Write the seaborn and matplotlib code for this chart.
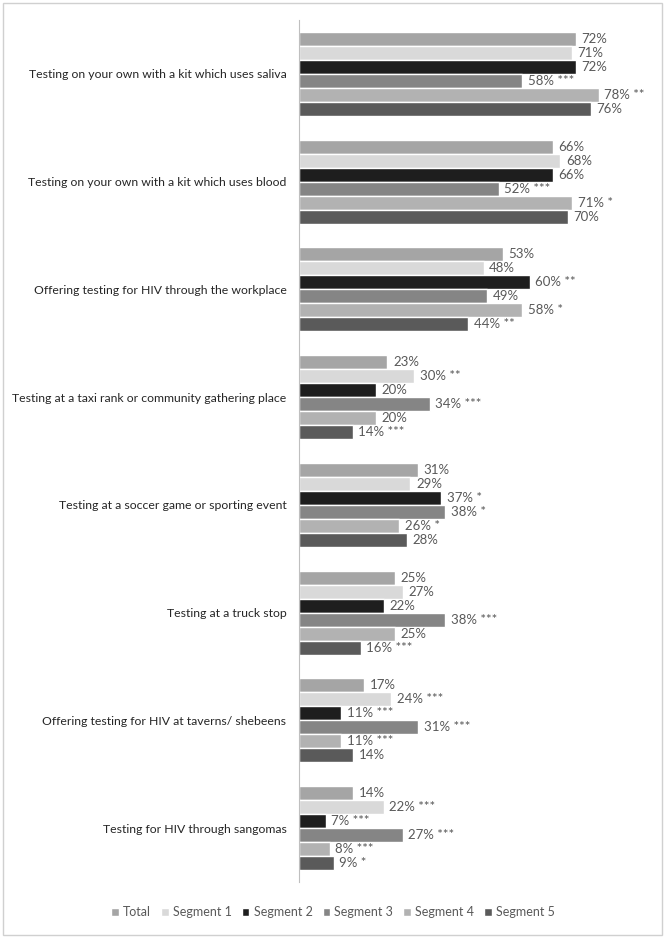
import pandas as pd
import matplotlib.pyplot as plt
import seaborn as sns
from matplotlib.patches import Rectangle

CATEGORIES = [
    "Testing on your own with a kit which uses saliva",
    "Testing on your own with a kit which uses blood",
    "Offering testing for HIV through the workplace",
    "Testing at a taxi rank or community gathering place",
    "Testing at a soccer game or sporting event",
    "Testing at a truck stop",
    "Offering testing for HIV at taverns/ shebeens",
    "Testing for HIV through sangomas",
]
SERIES = ["Total", "Segment 1", "Segment 2", "Segment 3", "Segment 4", "Segment 5"]

total = [72, 66, 53, 23, 31, 25, 17, 14]
seg1 = [71, 68, 48, 30, 29, 27, 24, 22]
seg2 = [72, 66, 60, 20, 37, 22, 11, 7]
seg3 = [58, 52, 49, 34, 38, 38, 31, 27]
seg4 = [78, 71, 58, 20, 26, 25, 11, 8]
seg5 = [76, 70, 44, 14, 28, 16, 14, 9]

# significance markers per series
sig_total = ["", "", "", "", "", "", "", ""]
sig_seg1 = ["", "", "", "**", "", "", "***", "***"]
sig_seg2 = ["", "", "**", "", "*", "", "***", "***"]
sig_seg3 = ["***", "***", "", "***", "*", "***", "***", "***"]
sig_seg4 = ["**", "*", "*", "", "*", "", "***", "***"]
sig_seg5 = ["", "", "**", "***", "", "***", "", "*"]

COLORS = ["#a5a5a5", "#d9d9d9", "#1e1e1e", "#858585", "#b2b2b2", "#5a5a5a"]

values = [total, seg1, seg2, seg3, seg4, seg5]
sigs = [sig_total, sig_seg1, sig_seg2, sig_seg3, sig_seg4, sig_seg5]

rows = []
for name, vals in zip(SERIES, values):
    for cat, v in zip(CATEGORIES, vals):
        rows.append({"category": cat, "series": name, "value": v})
df = pd.DataFrame(rows)

sns.set_style("white")
plt.rcParams["font.family"] = ["Lato", "DejaVu Sans"]

fig = plt.figure(figsize=(6.66, 9.38), dpi=100)
ax = fig.add_axes([299 / 666, 1 - 882 / 938, (645 - 299) / 666, (882 - 20) / 938])

sns.barplot(data=df, y="category", x="value", hue="series", orient="h",
            order=CATEGORIES, hue_order=SERIES, palette=COLORS,
            width=0.78, saturation=1, ax=ax, legend=True)

for cont, sig in zip(ax.containers, sigs):
    labels = [f"{int(b.get_width())}%" + (f" {s}" if s else "") for b, s in zip(cont, sig)]
    ax.bar_label(cont, labels=labels, padding=4, fontsize=9.5, color="#595959")

ax.set_xlim(0, 90)
ax.set_ylim(7.5, -0.5)
ax.set_xlabel("")
ax.set_ylabel("")
ax.set_xticks([])
ax.tick_params(axis="y", length=0, labelsize=8.8, colors="#262626", pad=9)
for side in ["top", "right", "bottom"]:
    ax.spines[side].set_visible(False)
ax.spines["left"].set_color("#bfbfbf")

ax.legend(loc="center", bbox_to_anchor=(0.5, 1 - 912 / 938), bbox_transform=fig.transFigure,
          ncol=6, frameon=False, fontsize=9, handlelength=0.6, handleheight=0.6,
          handletextpad=0.35, columnspacing=0.8, labelcolor="#595959")

fig.patches.append(Rectangle((3 / 666, 3 / 938), 659 / 666, 932 / 938, transform=fig.transFigure,
                             fill=False, edgecolor="#d0d0d0", linewidth=1))

fig.savefig("out.png", dpi=100)
